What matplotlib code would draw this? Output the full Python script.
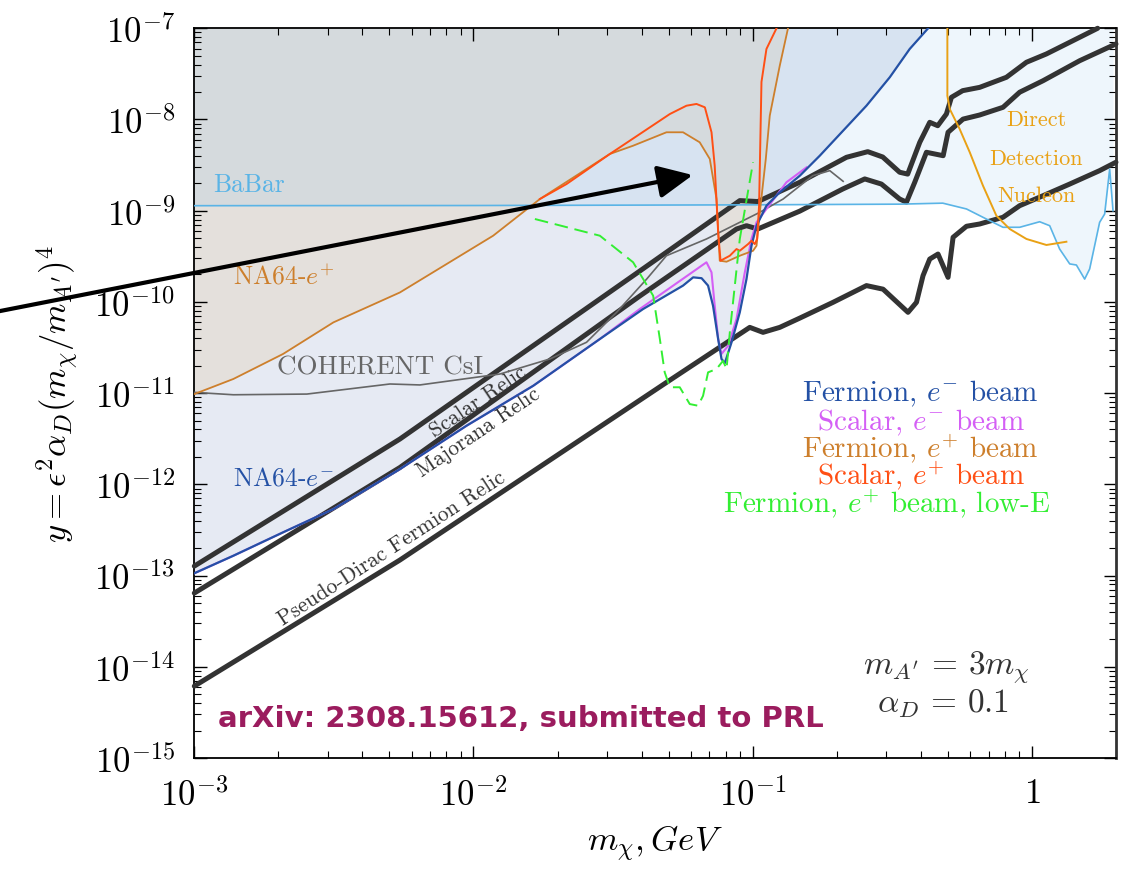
import numpy as np
import matplotlib
matplotlib.use('Agg')
import matplotlib.pyplot as plt
from matplotlib.ticker import LogLocator, FuncFormatter, NullFormatter

plt.rcParams['mathtext.fontset'] = 'cm'
plt.rcParams['font.family'] = 'serif'
plt.rcParams['font.serif'] = ['cmr10']
plt.rcParams['axes.unicode_minus'] = False

# ---- data (m_chi in GeV, y dimensionless) ----
# NA64 e- beam, fermion
blue_m = [0.001, 0.00138, 0.00208, 0.00315, 0.00475, 0.00545, 0.00945, 0.01637, 0.02835, 0.0405,
          0.0563, 0.0612, 0.0656, 0.0692, 0.0721, 0.0752, 0.0773, 0.0795, 0.0840, 0.0899,
          0.0950, 0.0990, 0.1032, 0.1120, 0.125, 0.1475, 0.1739, 0.2108, 0.2555, 0.3096, 0.365, 0.425]
blue_y = [1.06e-13, 1.65e-13, 2.98e-13, 5.36e-13, 1.14e-12, 1.47e-12, 4.40e-12, 1.205e-11, 3.92e-11, 8.36e-11,
          1.51e-10, 1.86e-10, 1.82e-10, 1.51e-10, 9.08e-11, 3.92e-11, 2.37e-11, 2.14e-11, 3.61e-11, 7.69e-11,
          1.78e-10, 4.13e-10, 6.85e-10, 1.135e-9, 1.59e-9, 2.42e-9, 4.01e-9, 7.54e-9, 1.416e-8, 2.90e-8, 5.93e-8, 1.0e-7]

# NA64 e- beam, scalar
magenta_m = [0.001, 0.00138, 0.00208, 0.00315, 0.00475, 0.00545, 0.00945, 0.01637, 0.02835, 0.0394,
             0.0683, 0.0712, 0.0731, 0.0752, 0.0773, 0.0817, 0.0875, 0.0937, 0.0990, 0.1032,
             0.1120, 0.1321, 0.1559]
magenta_y = [1.06e-13, 1.65e-13, 2.98e-13, 5.36e-13, 1.14e-12, 1.47e-12, 4.40e-12, 1.205e-11, 3.92e-11, 8.36e-11,
             2.72e-10, 2.11e-10, 9.08e-11, 3.92e-11, 2.69e-11, 3.31e-11, 6.49e-11, 2.11e-10, 4.90e-10, 7.46e-10,
             1.045e-9, 2.05e-9, 2.99e-9]

# NA64 e+ beam, fermion
orange_m = [0.001, 0.00138, 0.00208, 0.00315, 0.00545, 0.01176, 0.01729, 0.0308, 0.0373, 0.0491,
            0.0563, 0.0646, 0.0702, 0.0742, 0.0762, 0.0806, 0.0899, 0.1003, 0.1032, 0.1067,
            0.1114, 0.1151, 0.125, 0.1338]
orange_y = [9.77e-12, 1.43e-11, 2.69e-11, 5.97e-11, 1.27e-10, 5.32e-10, 1.343e-9, 4.19e-9, 5.16e-9, 7.24e-9,
            7.24e-9, 5.62e-9, 3.69e-9, 1.343e-9, 2.83e-10, 2.76e-10, 3.21e-10, 3.64e-10, 4.13e-10, 1.14e-9,
            3.69e-9, 1.10e-8, 3.89e-8, 1.0e-7]

# NA64 e+ beam, scalar
red_m = [0.01729, 0.02154, 0.0308, 0.0505, 0.0579, 0.0629, 0.0674, 0.0712, 0.0731, 0.0752,
         0.0767, 0.0828, 0.0875, 0.0899, 0.0963, 0.0990, 0.1017, 0.1037, 0.1054, 0.1075,
         0.1120, 0.1217]
red_y = [1.343e-9, 1.96e-9, 4.19e-9, 1.148e-8, 1.416e-8, 1.48e-8, 1.36e-8, 7.24e-9, 3.11e-9, 5.79e-10,
         2.83e-10, 3.21e-10, 3.80e-10, 3.64e-10, 4.31e-10, 4.69e-10, 4.31e-10, 4.90e-10, 1.135e-9, 2.58e-8,
         5.93e-8, 1.0e-7]

# NA64 e+ beam, fermion, low energy (projection)
green_m = [0.01659, 0.02835, 0.0373, 0.0440, 0.0465, 0.0484, 0.0505, 0.0548, 0.0595, 0.0637,
           0.0664, 0.0692, 0.0742, 0.0783, 0.0806, 0.0828, 0.0899, 0.1003]
green_y = [8.11e-10, 5.32e-10, 2.72e-10, 1.17e-10, 3.92e-11, 1.69e-11, 1.16e-11, 1.16e-11, 7.59e-12, 7.28e-12,
           9.35e-12, 1.69e-11, 1.84e-11, 2.26e-11, 1.84e-11, 4.64e-11, 4.90e-10, 3.40e-9]

coherent_m = [0.001, 0.00138, 0.00253, 0.00502, 0.00643, 0.01243, 0.01877, 0.0254, 0.03254, 0.0417,
              0.0491, 0.0683, 0.0899, 0.1060, 0.1285, 0.1641, 0.1888, 0.2108]
coherent_y = [1.02e-11, 9.6e-12, 9.77e-12, 1.26e-11, 1.23e-11, 1.62e-11, 2.37e-11, 3.61e-11, 7.69e-11, 1.78e-10,
              3.21e-10, 4.90e-10, 7.46e-10, 9.60e-10, 1.343e-9, 2.42e-9, 2.75e-9, 2.10e-9]

babar_m = [0.001, 0.01, 0.1, 0.336, 0.4795, 0.583, 0.687, 0.788, 0.904, 1.066,
           1.158, 1.257, 1.366, 1.443, 1.545, 1.610, 1.748, 1.822, 1.899, 1.952]
babar_y = [1.135e-9, 1.14e-9, 1.16e-9, 1.18e-9, 1.21e-9, 1.045e-9, 8.11e-10, 6.58e-10, 6.58e-10, 7.57e-10,
           6.85e-10, 3.80e-10, 2.61e-10, 2.54e-10, 1.78e-10, 2.30e-10, 7.46e-10, 9.20e-10, 2.86e-9, 1.0e-9]

dd_m = [0.498, 0.498, 0.508, 0.551, 0.599, 0.668, 0.746, 0.833, 0.956, 1.127, 1.329]
dd_y = [1.0e-7, 1.82e-8, 1.30e-8, 7.87e-9, 4.37e-9, 1.88e-9, 8.81e-10, 6.30e-10, 4.90e-10, 4.21e-10, 4.57e-10]

# relic targets
scalar_m = [0.001, 0.00545, 0.0394, 0.0899, 0.1043, 0.1475, 0.2167, 0.2583, 0.2922, 0.336,
            0.359, 0.3966, 0.4306, 0.460, 0.494, 0.515, 0.565, 0.650, 0.810, 0.956,
            1.127, 1.366, 1.72]
scalar_y = [1.27e-13, 3.14e-12, 2.18e-10, 1.29e-9, 1.26e-9, 2.05e-9, 3.85e-9, 4.44e-9, 3.88e-9, 2.64e-9,
            2.52e-9, 5.62e-9, 9.31e-9, 8.55e-9, 1.148e-8, 1.75e-8, 2.07e-8, 2.25e-8, 2.90e-8, 4.24e-8,
            5.23e-8, 7.02e-8, 1.0e-7]

majorana_m = [0.001, 0.00545, 0.0394, 0.0875, 0.0950, 0.1043, 0.1475, 0.2102, 0.252, 0.289,
              0.336, 0.3554, 0.3805, 0.419, 0.481, 0.5008, 0.5667, 0.650, 0.788, 0.904,
              1.096, 1.483, 2.0]
majorana_y = [6.43e-14, 1.53e-12, 1.16e-10, 6.30e-10, 6.85e-10, 6.30e-10, 9.9e-10, 1.73e-9, 2.23e-9, 1.96e-9,
              1.343e-9, 1.24e-9, 2.05e-9, 4.37e-9, 4.01e-9, 7.24e-9, 1.01e-8, 1.12e-8, 1.36e-8, 1.99e-8,
              2.66e-8, 4.41e-8, 6.73e-8]

dirac_m = [0.001, 0.00545, 0.0491, 0.0976, 0.1089, 0.125, 0.1475, 0.194, 0.2555, 0.293,
           0.360, 0.386, 0.4074, 0.4306, 0.461, 0.5008, 0.522, 0.583, 0.650, 0.788,
           0.904, 1.096, 1.366, 1.748, 2.0]
dirac_y = [6.14e-15, 1.48e-13, 1.31e-11, 5.26e-11, 4.64e-11, 5.26e-11, 6.65e-11, 9.9e-11, 1.51e-10, 1.38e-10,
           7.69e-11, 9.9e-11, 1.94e-10, 2.95e-10, 3.35e-10, 1.86e-10, 5.11e-10, 6.75e-10, 7.15e-10, 8.47e-10,
           1.135e-9, 1.46e-9, 1.96e-9, 2.75e-9, 3.40e-9]

legend_lines = ['Fermion, $e^{-}$ beam', 'Scalar, $e^{-}$ beam', 'Fermion, $e^{+}$ beam',
                'Scalar, $e^{+}$ beam', 'Fermion, $e^{+}$ beam, low-E']

c_blue = '#2451a5'
c_mag = '#d45ff5'
c_orange = '#cd7f2c'
c_red = '#ff4f14'
c_green = '#33ee33'
c_babar = '#5ab4e6'
c_dd = '#e9a115'
c_relic = '#333333'

fig = plt.figure(figsize=(11.27, 8.79), dpi=100)
ax = fig.add_axes([0.1724, 0.1365, 0.8178, 0.8302])
ax.set_xscale('log')
ax.set_yscale('log')
ax.set_xlim(1e-3, 2.0)
ax.set_ylim(1e-15, 1e-7)

# excluded regions (stacked translucent fills)
ax.fill_between(orange_m, orange_y, 1e-7, color='#facd91', alpha=0.25, lw=0, zorder=1)
ax.fill_between(blue_m, blue_y, 1e-7, color='#8299c3', alpha=0.2, lw=0, zorder=1)
ax.fill_between(babar_m, babar_y, 1e-7, color='#5aa9e6', alpha=0.1, lw=0, zorder=1)

# relic targets
for rm, ry in [(scalar_m, scalar_y), (majorana_m, majorana_y), (dirac_m, dirac_y)]:
    ax.plot(rm, ry, color=c_relic, lw=3.6, solid_capstyle='round', solid_joinstyle='round',
            clip_on=False, zorder=3)

ax.plot(babar_m, babar_y, color=c_babar, lw=1.2, zorder=4)
ax.plot(coherent_m, coherent_y, color='#666666', lw=1.2, zorder=4)
ax.plot(dd_m, dd_y, color=c_dd, lw=1.4, zorder=4)
ax.plot(magenta_m, magenta_y, color=c_mag, lw=1.5, zorder=4)
ax.plot(blue_m, blue_y, color=c_blue, lw=1.6, zorder=5)
ax.plot(orange_m, orange_y, color=c_orange, lw=1.3, zorder=4)
ax.plot(red_m, red_y, color=c_red, lw=1.4, zorder=5)
gl, = ax.plot(green_m, green_y, color=c_green, lw=1.4, zorder=5)
gl.set_dashes([7, 3.5])

# arrow from outside the frame
ax.annotate('', xy=(0.0610, 2.46e-9), xytext=(1.93e-4, 7.74e-11),
            arrowprops=dict(arrowstyle='-|>,head_length=0.85,head_width=0.4', lw=3,
                            color='black', mutation_scale=25, shrinkA=0, shrinkB=0),
            annotation_clip=False, zorder=6)

# labels
tr = ax.transAxes
ax.text(0.0203, 0.7866, 'BaBar', transform=tr, color=c_babar, fontsize=18.5, va='center')
ax.text(0.042, 0.6605, 'NA64-$e^{+}$', transform=tr, color=c_orange, fontsize=18.5, va='center')
ax.text(0.0895, 0.5358, 'COHERENT CsI', transform=tr, color='#666666', fontsize=19.5, va='center')
ax.text(0.042, 0.3837, 'NA64-$e^{-}$', transform=tr, color=c_blue, fontsize=18.5, va='center')

ax.text(0.308, 0.489, 'Scalar Relic', transform=tr, color=c_relic, fontsize=15.5, rotation=34,
        ha='center', va='center', rotation_mode='anchor')
ax.text(0.308, 0.447, 'Majorana Relic', transform=tr, color=c_relic, fontsize=15.5, rotation=34,
        ha='center', va='center', rotation_mode='anchor')
ax.text(0.2145, 0.2878, 'Pseudo-Dirac Fermion Relic', transform=tr, color=c_relic, fontsize=15.5,
        rotation=33, ha='center', va='center', rotation_mode='anchor')

for txt, yy in zip(['Direct', 'Detection', 'Nucleon'], [0.8757, 0.8216, 0.7716]):
    ax.text(0.9132, yy, txt, transform=tr, color=c_dd, fontsize=16, ha='center', va='center')

leg_colors = [c_blue, c_mag, c_orange, c_red, c_green]
leg_y = [0.4897, 0.4509, 0.4121, 0.3755, 0.3367]
leg_x = [0.7879, 0.7879, 0.7879, 0.7879, 0.751]
for txt, col, xx, yy in zip(legend_lines, leg_colors, leg_x, leg_y):
    ax.text(xx, yy, txt, transform=tr, color=col, fontsize=21, ha='center', va='baseline')

ax.text(0.816, 0.118, r"$m_{A'} \,=\, 3m_\chi$", transform=tr, color='#333333', fontsize=24,
        ha='center', va='baseline')
ax.text(0.812, 0.064, r'$\alpha_D \,=\, 0.1$', transform=tr, color='#333333', fontsize=24,
        ha='center', va='baseline')

ax.text(0.0257, 0.0548, 'arXiv: 2308.15612, submitted to PRL', transform=tr, color='#9b1c5e',
        fontsize=21, fontweight='bold', family='DejaVu Sans', va='center')

# axes cosmetics
def log_label(v, pos):
    e = int(round(np.log10(v)))
    if e == 0:
        return r'$1$'
    return r'$10^{%d}$' % e

for axis in [ax.xaxis, ax.yaxis]:
    axis.set_major_locator(LogLocator(base=10, numticks=30))
    axis.set_minor_locator(LogLocator(base=10, subs=np.arange(2, 10) * 1.0, numticks=30))
    axis.set_major_formatter(FuncFormatter(log_label))
    axis.set_minor_formatter(NullFormatter())

ax.tick_params(which='both', direction='in', top=True, right=True, labelsize=25)
ax.tick_params(which='major', length=9, width=1.0)
ax.tick_params(which='minor', length=5, width=0.8)
ax.tick_params(axis='x', pad=14)
ax.tick_params(axis='y', pad=14)
for s in ax.spines.values():
    s.set_linewidth(1.3)
ax.spines['right'].set_linewidth(2.0)
ax.spines['right'].set_color('#333333')

ax.set_xlabel(r'$m_\chi, GeV$', fontsize=25, labelpad=8)
ax.set_ylabel(r"$y = \epsilon^2\alpha_D(m_\chi/m_{A'})^4$", fontsize=25, labelpad=10)

fig.savefig('out.png', dpi=100)
